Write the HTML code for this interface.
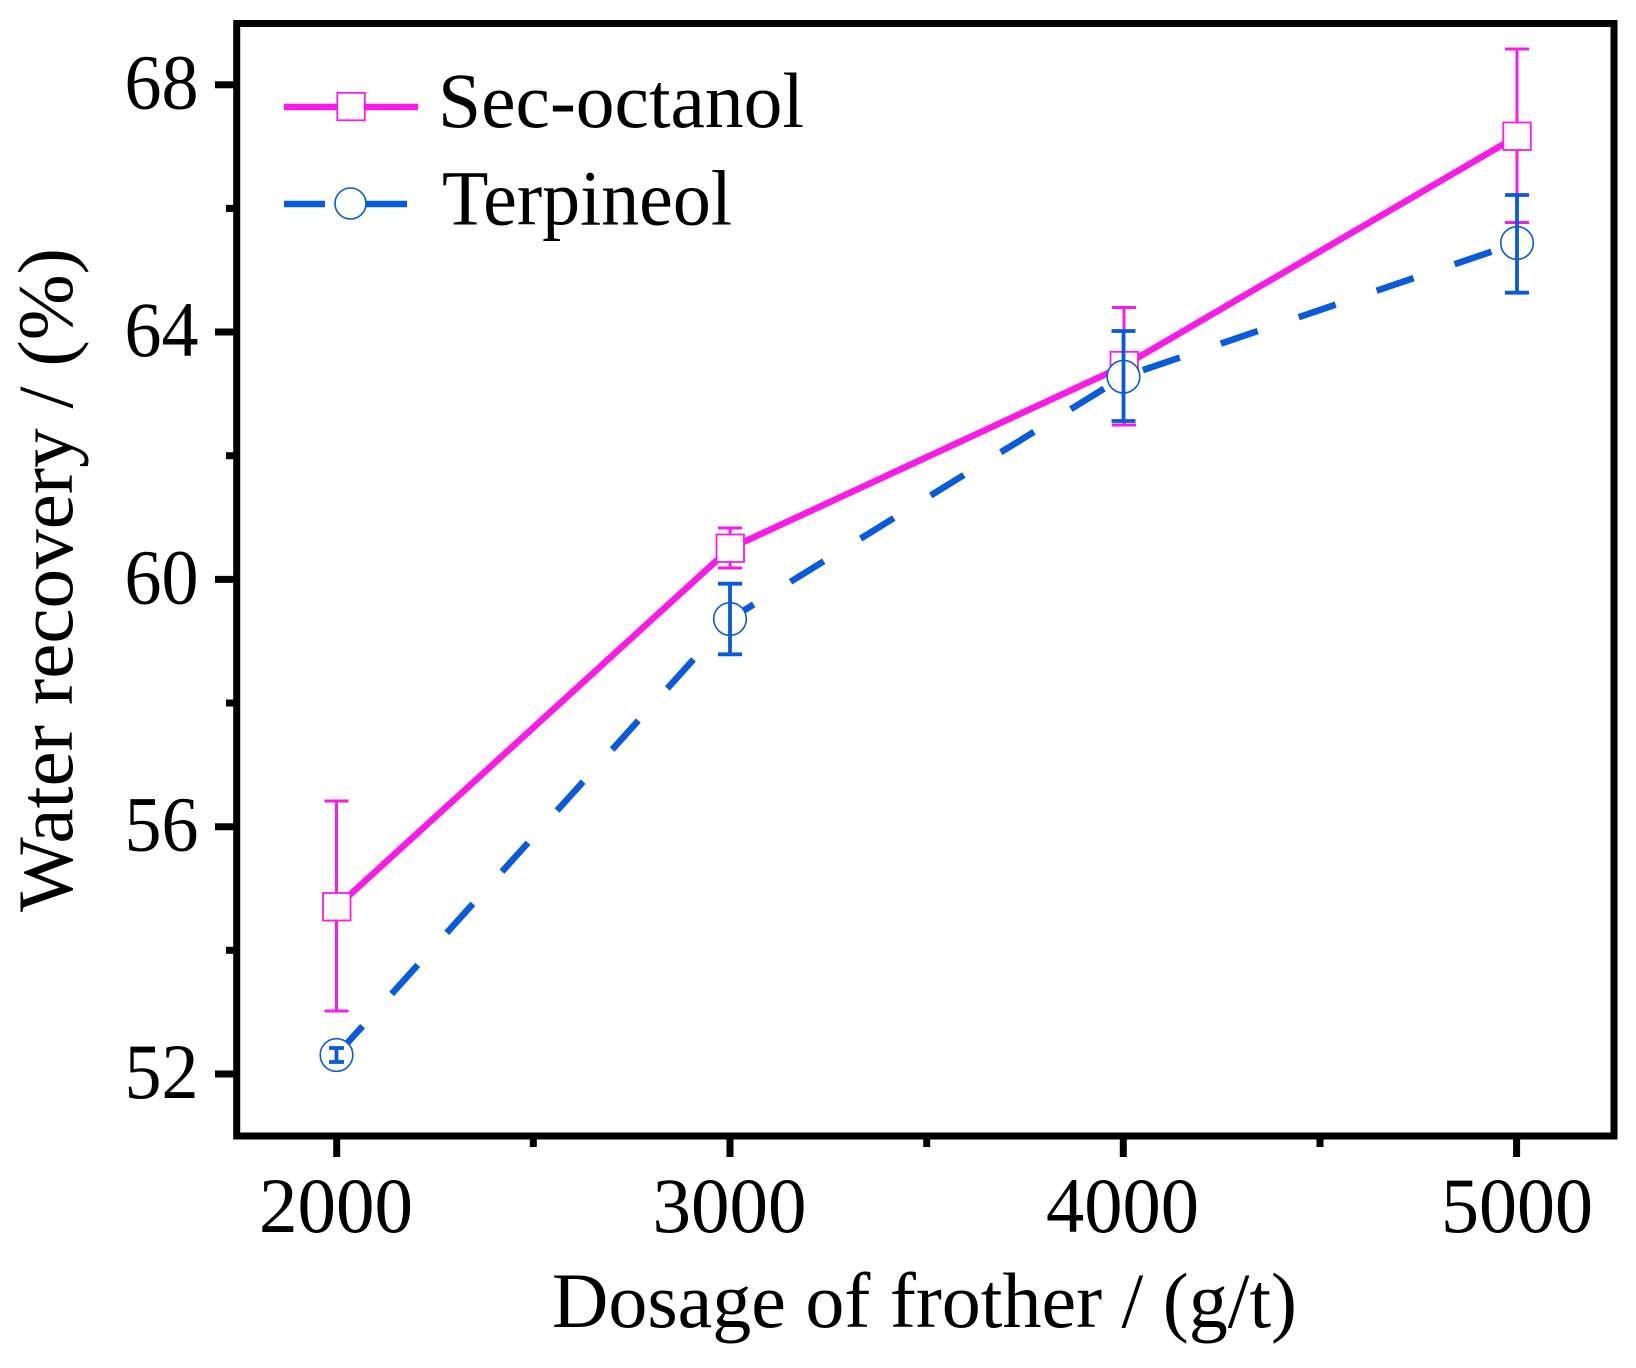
<!DOCTYPE html>
<html>
<head>
<meta charset="utf-8">
<style>
html,body{margin:0;padding:0;background:#fff;}
svg{display:block;}
text{font-family:"Liberation Serif","Times New Roman",serif;fill:#000;}
</style>
</head>
<body>
<svg width="1636" height="1368" viewBox="0 0 1636 1368" xmlns="http://www.w3.org/2000/svg">
<rect x="0" y="0" width="1636" height="1368" fill="#fff"/>

<!-- Sec-octanol line -->
<polyline points="336.5,907 730,548.3 1124,365.7 1517,136.3" fill="none" stroke="#FA1CE6" stroke-width="6.5" stroke-linejoin="round"/>
<!-- Sec-octanol error bars -->
<g stroke="#FA1CE6" stroke-width="3" fill="none">
<line x1="336.5" y1="801" x2="336.5" y2="1011"/>
<line x1="324.5" y1="801" x2="348.5" y2="801"/>
<line x1="324.5" y1="1011" x2="348.5" y2="1011"/>
<line x1="730" y1="528" x2="730" y2="568"/>
<line x1="718" y1="528" x2="742" y2="528"/>
<line x1="718" y1="568" x2="742" y2="568"/>
<line x1="1124" y1="307.5" x2="1124" y2="425"/>
<line x1="1112" y1="307.5" x2="1136" y2="307.5"/>
<line x1="1112" y1="425" x2="1136" y2="425"/>
<line x1="1517" y1="49" x2="1517" y2="222.5"/>
<line x1="1505" y1="49" x2="1529" y2="49"/>
<line x1="1505" y1="222.5" x2="1529" y2="222.5"/>
</g>
<!-- Sec-octanol markers -->
<g fill="#fff" stroke="#FA1CE6" stroke-width="1.8">
<rect x="323" y="893" width="27.5" height="27.5"/>
<rect x="716.5" y="534.5" width="27.5" height="27.5"/>
<rect x="1110.5" y="351.8" width="27.5" height="27.5"/>
<rect x="1503.3" y="122.5" width="27.5" height="27.5"/>
</g>

<!-- Terpineol line -->
<polyline points="336.5,1055 730,619 1123.5,376.7 1517,243" fill="none" stroke="#0A5ADC" stroke-width="6.5" stroke-dasharray="39 43.3" stroke-linejoin="round"/>
<!-- Terpineol markers -->
<g fill="#fff" stroke="#0A5ADC" stroke-width="1.6">
<circle cx="336.5" cy="1055" r="16.3"/>
<circle cx="730" cy="619" r="16.3"/>
<circle cx="1123.5" cy="376.7" r="16.3"/>
<circle cx="1517" cy="243" r="16.3"/>
</g>
<!-- Terpineol error bars -->
<g stroke="#0A5ADC" stroke-width="3.8" fill="none">
<line x1="336.5" y1="1048" x2="336.5" y2="1062"/>
<line x1="329" y1="1048" x2="344" y2="1048"/>
<line x1="329" y1="1062" x2="344" y2="1062"/>
<line x1="730" y1="583.7" x2="730" y2="654.3"/>
<line x1="718" y1="583.7" x2="742" y2="583.7"/>
<line x1="718" y1="654.3" x2="742" y2="654.3"/>
<line x1="1123.5" y1="331" x2="1123.5" y2="421"/>
<line x1="1111.5" y1="331" x2="1135.5" y2="331"/>
<line x1="1111.5" y1="421" x2="1135.5" y2="421"/>
<line x1="1517" y1="195" x2="1517" y2="292.7"/>
<line x1="1505" y1="195" x2="1529" y2="195"/>
<line x1="1505" y1="292.7" x2="1529" y2="292.7"/>
</g>

<!-- Frame -->
<rect x="236.7" y="23.5" width="1377.3" height="1112.5" fill="none" stroke="#000" stroke-width="7"/>

<!-- Y ticks -->
<g stroke="#000" stroke-width="7">
<line x1="215" y1="84.7" x2="237" y2="84.7"/>
<line x1="215" y1="332" x2="237" y2="332"/>
<line x1="215" y1="579.4" x2="237" y2="579.4"/>
<line x1="215" y1="826.7" x2="237" y2="826.7"/>
<line x1="215" y1="1074" x2="237" y2="1074"/>
<line x1="226" y1="208.4" x2="237" y2="208.4"/>
<line x1="226" y1="455.7" x2="237" y2="455.7"/>
<line x1="226" y1="703" x2="237" y2="703"/>
<line x1="226" y1="950.3" x2="237" y2="950.3"/>
</g>
<!-- X ticks -->
<g stroke="#000" stroke-width="7">
<line x1="336.7" y1="1136" x2="336.7" y2="1157"/>
<line x1="730" y1="1136" x2="730" y2="1157"/>
<line x1="1123.3" y1="1136" x2="1123.3" y2="1157"/>
<line x1="1516.6" y1="1136" x2="1516.6" y2="1157"/>
<line x1="533.3" y1="1136" x2="533.3" y2="1147"/>
<line x1="926.7" y1="1136" x2="926.7" y2="1147"/>
<line x1="1320" y1="1136" x2="1320" y2="1147"/>
</g>

<!-- Y tick labels -->
<g font-size="78" text-anchor="end">
<text x="198.5" y="108.7" textLength="74" lengthAdjust="spacingAndGlyphs">68</text>
<text x="198.5" y="356" textLength="74" lengthAdjust="spacingAndGlyphs">64</text>
<text x="198.5" y="603.4" textLength="74" lengthAdjust="spacingAndGlyphs">60</text>
<text x="198.5" y="850.7" textLength="74" lengthAdjust="spacingAndGlyphs">56</text>
<text x="198.5" y="1098" textLength="74" lengthAdjust="spacingAndGlyphs">52</text>
</g>
<!-- X tick labels -->
<g font-size="78" text-anchor="middle">
<text x="336" y="1232" textLength="154" lengthAdjust="spacingAndGlyphs">2000</text>
<text x="729.5" y="1232" textLength="154" lengthAdjust="spacingAndGlyphs">3000</text>
<text x="1122.5" y="1232" textLength="153" lengthAdjust="spacingAndGlyphs">4000</text>
<text x="1517" y="1232" textLength="152" lengthAdjust="spacingAndGlyphs">5000</text>
</g>

<!-- Axis titles -->
<text x="924.5" y="1327" font-size="78" text-anchor="middle" textLength="745" lengthAdjust="spacingAndGlyphs">Dosage of frother / (g/t)</text>
<text transform="translate(72,580) rotate(-90)" x="0" y="0" font-size="78" text-anchor="middle" textLength="664" lengthAdjust="spacingAndGlyphs">Water recovery / (%)</text>

<!-- Legend -->
<line x1="284" y1="107" x2="418" y2="107" stroke="#FA1CE6" stroke-width="6.5"/>
<rect x="337.3" y="92.8" width="27.5" height="27.5" fill="#fff" stroke="#FA1CE6" stroke-width="1.8"/>
<line x1="284" y1="204" x2="325" y2="204" stroke="#0A5ADC" stroke-width="6.5"/>
<line x1="366.5" y1="204" x2="407" y2="204" stroke="#0A5ADC" stroke-width="6.5"/>
<circle cx="350.5" cy="203.5" r="15.5" fill="#fff" stroke="#0A5ADC" stroke-width="1.6"/>
<text x="438" y="127" font-size="78" textLength="366" lengthAdjust="spacingAndGlyphs">Sec-octanol</text>
<text x="442" y="224.5" font-size="78" textLength="290" lengthAdjust="spacingAndGlyphs">Terpineol</text>
</svg>
</body>
</html>
